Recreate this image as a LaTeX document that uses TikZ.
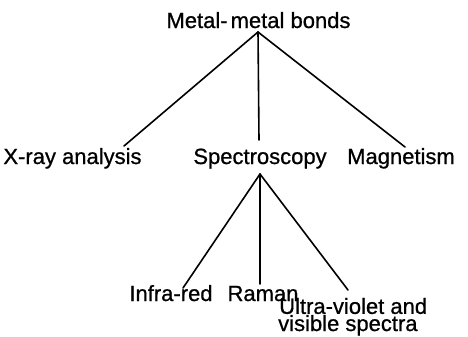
\documentclass[tikz,border=0pt]{standalone}
\usepackage{fontspec}
\setmainfont{Liberation Sans}[FakeBold=0.8]
\begin{document}
\begin{tikzpicture}[x=1bp,y=-1bp,
  lbl/.style={anchor=base,inner sep=0pt,font=\fontsize{22bp}{15bp}\selectfont},
  edge/.style={line width=1.6bp,line cap=round}]
\useasboundingbox (0,0) rectangle (468,336);
% nodes
\node[lbl] (mm) at (258.5,28) {Metal-\kern3bp metal bonds};
\node[lbl] (xr) at (72.5,164) {X-ray analysis};
\node[lbl] (sp) at (260,164) {Spectroscopy};
\node[lbl] (mg) at (401,164) {Magnetism};
\node[lbl] (ir) at (171,301) {Infra-red};
\node[lbl] (ra) at (263,301) {Raman};
\node[lbl,anchor=base west,align=left] (uv) at (279,331) {Ultra-violet and\\\kern-1bp visible spectra};
% connector end points
\coordinate (mmA) at (258,32);
\coordinate (xrT) at (124,146);
\coordinate (spT) at (259,140);
\coordinate (mgT) at (405,147);
\coordinate (spA) at (260,174);
\coordinate (irT) at (183,288);
\coordinate (raT) at (260,284);
\coordinate (uvT) at (348,290);
% connectors
\draw[edge] (mmA) -- (xrT);
\draw[edge] (mmA) -- (spT);
\draw[edge] (mmA) -- (mgT);
\draw[edge] (spA) -- (irT);
\draw[edge] (spA) -- (raT);
\draw[edge] (spA) -- (uvT);
\end{tikzpicture}
\end{document}
